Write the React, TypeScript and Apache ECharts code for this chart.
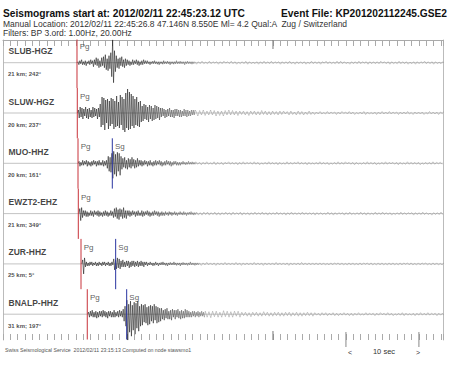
import React, { useEffect, useRef } from "react";
import * as echarts from "echarts";

const FF = '"Liberation Sans", Arial, sans-serif';

// stations (top to bottom)
const stations = ["SLUB-HGZ", "SLUW-HGZ", "MUO-HHZ", "EWZT2-EHZ", "ZUR-HHZ", "BNALP-HHZ"];
const distances = ["21 km; 242°", "20 km; 237°", "20 km; 161°", "21 km; 349°", "25 km; 5°", "31 km; 197°"];

// times in seconds after 22:45:00 UTC
const traceStart = [33.15, 33.2, 33.3, 33.4, 33.8, 34.6];
const pgTimes = [33.14, 33.18, 33.28, 33.32, 33.69, 34.55];
const sgTimes: (number | null)[] = [null, null, 37.98, null, 38.44, 39.95];
const minuteTick = 60;
const scaleBar = [70, 80];

const onsetStep = 0.125; // s between samples in the onset part
const codaStep = 0.25; // s between samples in the coda part

// amplitudes (up = positive)
const slubOnset = [0,
  1, -2, 2, -1, 3, -2, 1, -2, 2, -3, 1, -1, 2, -2, 3, -1,
  2, -4, 3, -2, 5, -3, 4, -5, 2, -4, 5, -3,
  6, -5, 8, -7, 4, -8, 7, -6,
  10, -14, 23, -20, 12, -9,
  7, -5, 4, -6, 5, -3, 6, -4, 3, -5, 4, -3,
  3, -2, 2, -3, 1, -2, 3, -2, 2, -1, 3, -2, 2, -3, 1, -2, 2, -2, 3, -1, 2,
  -1, 2, -1, 1, -2, 1, -1, 1.5, -1, 2, -1, 1, -1.5, 1, -2, 1, -1, 1, -1.5, 2, -1, 1, -1, 1.5, -1, 1, -2, 1, -1, 1, -1.5, 1, -1, 2, -1, 1, -1, 1.5, -1, 1, -1, 1, -2, 1, -1, 1.5, -1, 1, -1, 1, -1.5, 1, -1];
const slubCoda = [
  1, -1.5, 1, -1, 1.5, -1, 0.5, -1, 1.5, -1, 1, -0.5, 1, -1.5, 1, -1, 1.5, -0.5, 1, -1,
  1.5, -1, 1, -1.5, 0.5, -1, 1, -1, 1.5, -1.5, 1, -1, 0.5, -1, 1, -1.5, 1, -1, 1.5, -1,
  1, -1, 1.5, -1, 1, -0.5, 1, -1.5, 1, -1, 1, -1, 1.5, -1, 0.5, -1.5, 1, -1, 1, -1,
  1, -1.5, 0.5, -1, 1.5, -1, 1, -1, 1, -1.5, 1, -0.5, 1.5, -1, 1, -1, 0.5, -1, 1.5, -1,
  1.5, -1, 1, -1, 0.5, -1.5, 1, -1, 1, -1, 1.5, -1, 1, -0.5, 1, -1.5, 1, -1, 1, -1,
  1, -1, 1.5, -0.5, 1, -1, 1, -1.5, 1, -1, 0.5, -1, 1.5, -1, 1, -1, 1, -1.5, 0.5, -1,
  1, -1.5, 1, -1, 1, -0.5, 1.5, -1, 1, -1, 1, -1.5, 1, -1, 0.5, -1, 1, -1, 1.5, -1];

const sluwOnset = [0,
  3, -5, 6, -4, 5, -6, 4, -3, 6, -5, 4, -6, 5, -4, 3, -5, 6, -4, 5, -3, 4, -6, 5, -4,
  9, -14, 16, -12, 15, -17, 13, -10, 14, -16, 12,
  -13, 15, -11, 14, -16, 12, -14, 17, -13, 11, -15, 18, -12, 16, -17, 14, -19, 20, -15, 24, -17, 21, -16, 19, -13, 17, -15, 14, -12, 16, -13, 11, -14, 12,
  -9, 7, -8, 9, -6, 8, -7, 6, -9, 8, -6, 7, -8, 5, -7, 8, -6, 7, -5, 6, -7, 5,
  -4, 5, -3, 4, -5, 3, -4, 4, -3, 5, -4, 3, -4, 3, -5, 4, -3, 4, -3, 3, -4, 3, -4, 2, -3, 4, -3, 3, -4, 3,
  -3, 2, -3, 3, -2, 3, -2, 3];
const sluwCoda = [
  2, -3, 2.5, -2, 3, -2.5, 2, -2, 3, -2, 2.5, -3, 2, -2.5, 2, -3, 2.5, -2, 3, -2, 2.5, -2, 2, -2.5,
  2, -1.5, 2, -2, 1.5, -2.5, 2, -1.5, 2, -2, 1.5, -2, 2.5, -1.5, 2, -2, 1.5, -2, 2, -1.5,
  1.5, -2, 2, -1.5, 2, -1, 1.5, -2, 2, -1.5, 1, -2, 2, -1.5, 1.5, -2, 1, -1.5, 2, -1.5,
  1, -1.5, 1, -1, 1.5, -1, 0.5, -1, 1.5, -1, 1, -0.5, 1, -1.5, 1, -1, 1.5, -0.5, 1, -1,
  1.5, -1, 1, -1.5, 0.5, -1, 1, -1, 1.5, -1.5, 1, -1, 0.5, -1, 1, -1.5, 1, -1, 1.5, -1,
  1, -1, 1.5, -1, 1, -0.5, 1, -1.5, 1, -1, 1, -1, 1.5, -1, 0.5, -1.5, 1, -1, 1, -1,
  1, -1.5, 0.5, -1, 1.5, -1, 1, -1, 1, -1.5, 1, -0.5, 1.5, -1, 1, -1];

const muoOnset = [0,
  2, -3, 1, -2, 3, -2, 2, -1, 3, -3, 2, -2, 1, -3, 2, -2, 3, -1, 2, -3, 2, -2, 3, -2, 1, -2, 3, -3, 2, -2, 3,
  -5, 7, -8, 6, -9, 10,
  -15, 12, -11, 9, -13, 11, -8, 10, -12, 7,
  -6, 5, -4, 6, -5, 3, -6, 5, -4, 4, -5, 6, -3, 4, -5, 3, -4, 5, -3,
  3, -2, 3, -3, 2, -2, 3, -1, 2, -3, 2, -2, 3, -2, 1, -3, 2, -2, 3, -2, 2, -1, 3, -2, 2, -3, 1, -2, 2, -2, 3, -1, 2, -2, 2, -3, 1, -2, 2, -1, 2, -2, 1, -2,
  1, -2, 1, -1, 2, -1, 1, -1.5, 1, -1, 2, -1, 1, -1, 1.5, -1, 1, -1];
const muoCoda = [
  1.5, -1, 1, -1.5, 1, -1, 1.5, -1, 0.5, -1, 1.5, -1.5, 1, -1, 1, -1.5, 1, -0.5, 1.5, -1,
  1, -1, 1, -1.5, 1, -1, 1.5, -1, 1, -0.5, 1, -1, 1.5, -1, 1, -1.5, 0.5, -1, 1, -1,
  1.5, -1, 1, -1, 1, -1.5, 1, -1, 0.5, -1, 1.5, -1, 1, -1, 1, -0.5, 1.5, -1, 1, -1,
  1, -1.5, 1, -1, 0.5, -1, 1, -1, 1.5, -1, 1, -1, 1, -1.5, 0.5, -1, 1, -1, 1.5, -1,
  1, -1, 1.5, -0.5, 1, -1, 1, -1.5, 1, -1, 0.5, -1, 1, -1, 1.5, -1, 1, -1, 1, -1.5,
  0.5, -1, 1, -1, 1.5, -1, 1, -0.5, 1, -1, 1, -1.5, 1, -1, 0.5, -1, 1.5, -1, 1, -1,
  1, -1, 1, -1.5, 0.5, -1, 1, -1, 1, -1, 1.5, -1, 1, -0.5, 1, -1];

const ewztOnset = [0,
  5, -7, 6, -4,
  3, -2, 3, -3, 2, -3, 1, -2, 3, -2, 2, -3, 3, -1, 2, -2, 3, -3, 2, -2, 1, -3, 2, -2, 3, -2, 2, -3, 1, -2, 3, -2, 2,
  -4, 5, -3, 6, -5, 4, -6, 5, -3, 4, -5, 6, -4, 3, -5,
  3, -2, 3, -3, 2, -2, 3, -1, 2, -3, 2, -2, 3, -2, 1, -2, 3, -3, 2, -2, 2, -1, 3, -2, 2, -3, 1, -2, 2, -2, 3, -1, 2, -2, 2, -3, 1, -2, 2, -2,
  1, -2, 2, -1, 1, -2, 2, -1, 1.5, -2, 1, -1, 2, -1.5, 1, -2, 1, -1, 2, -1, 1, -1.5, 2, -1, 1, -2, 1, -1, 1.5, -1, 2, -1, 1, -1.5, 1, -1];
const ewztCoda = [
  1.5, -1.5, 1, -1.5, 1.5, -1, 1.5, -1.5, 1, -1, 1.5, -1.5, 1, -1.5, 1, -1, 1.5, -1, 1, -1.5,
  1.5, -1, 1, -1, 1.5, -1.5, 1, -1, 1, -1.5, 1, -1, 1.5, -1, 1, -1, 1.5, -1, 1, -1.5,
  1, -1, 1, -1, 1.5, -1, 1, -1, 1, -1.5, 1, -1, 1.5, -1, 1, -1, 1, -1, 1.5, -1,
  1, -1, 1, -1, 1, -1.5, 1, -1, 1, -1, 0.5, -1, 1.5, -1, 1, -1.5, 1, -1, 1, -0.5,
  1, -1.5, 1, -1, 1.5, -1, 0.5, -1, 1, -1, 1.5, -1, 1, -1.5, 1, -1, 0.5, -1, 1.5, -1,
  1, -1, 1.5, -1, 1, -1, 1, -1.5, 0.5, -1, 1, -1, 1.5, -1, 1, -1, 1, -0.5, 1, -1.5,
  1, -1, 1, -1, 1.5, -1, 1, -1, 0.5, -1.5, 1, -1, 1, -1, 1.5, -1];

const zurOnset = [0,
  4, -10, 6, -3,
  2, -2, 1, -2, 2, -1, 2, -2, 1, -1, 2, -2, 1, -2, 2, -1, 1, -2, 2, -1, 2, -2, 1, -1, 2, -2, 1, -2, 2, -1,
  5, -6, 4, -5, 6, -4, 5, -5, 3,
  -3, 4, -3, 2, -3, 3, -2, 3, -4, 2, -3, 3, -2, 3, -3, 2, -2, 3, -3, 2, -2, 3, -2, 2, -3,
  2, -1, 2, -2, 1, -1, 2, -1, 1, -2, 1, -1.5, 2, -1, 1, -2, 1, -1, 1.5, -1, 2, -1, 1, -1.5, 1, -2, 1, -1, 1.5, -1, 1, -1, 2, -1, 1, -1.5, 1, -1, 1, -2, 1, -1, 1.5, -1, 1, -1, 1, -1.5, 1, -1, 2, -1, 1, -1, 1, -1.5, 1, -1, 1, -1];
const zurCoda = [
  1, -1.5, 1, -1, 1.5, -1, 1, -1, 1, -1.5, 1, -1, 1, -1, 1.5, -1, 1, -1, 1, -1,
  1.5, -1, 1, -1.5, 1, -1, 1, -1, 1, -1, 1.5, -1, 1, -1, 1, -1.5, 1, -1, 1, -1,
  1, -1, 1.5, -1, 1, -1, 1, -1, 1, -1.5, 1, -1, 1, -1, 1, -1, 1.5, -1, 1, -1,
  1, -1, 1, -1, 1, -1, 1, -1, 1, -1, 0.5, -1, 1, -1, 1, -0.5, 1, -1, 1, -1,
  0.5, -1, 1, -1, 1, -1, 0.5, -1, 1, -1, 1, -0.5, 1, -1, 1, -1, 0.5, -1, 1, -1,
  1, -1, 0.5, -1, 1, -1, 1, -1, 0.5, -1, 1, -1, 1, -0.5, 1, -1, 1, -1, 0.5, -1,
  1, -1, 1, -0.5, 1, -1, 0.5, -1, 1, -1, 1, -1, 0.5, -1, 1, -1];

const bnalpOnset = [0,
  2, -3, 3, -2, 4, -3, 2, -3, 3, -4, 2, -3, 3, -2, 3, -3, 4, -2, 3, -3, 2, -4, 3, -2, 3, -3, 2, -3, 4, -3, 2, -2, 3, -3, 4, -2, 3, -3,
  5, -7, 8,
  -12, 14, -26, 10, -18, 13, -22, 9, -16, 12, -20, 11, -14, 13, -17, 8, -12, 10,
  -11, 9, -8, 10, -9, 7, -11, 8, -10, 9, -7, 8, -9, 10, -6, 8, -9, 7, -8, 6, -7,
  6, -5, 4, -6, 5, -4, 6, -5, 3, -5, 4, -6, 5, -3, 4, -5, 4, -3, 5, -4, 3, -5, 4, -4, 3, -4, 5, -3, 4, -3,
  3, -3, 2, -3, 3, -2, 3, -3, 2, -2, 3, -3, 2, -2, 3, -2, 2, -3];
const bnalpCoda = [
  3, -3, 2.5, -3.5, 3, -2.5, 3, -3, 2, -3, 3.5, -2.5, 3, -3, 2.5, -3, 3, -2, 3, -3,
  2, -1.5, 2, -2, 1.5, -2.5, 2, -1.5, 2, -2, 1.5, -2, 2.5, -1.5, 2, -2, 1.5, -2, 2, -1.5,
  2, -2, 1.5, -2, 2, -1.5, 2, -2, 1.5, -1.5, 2, -2, 1.5, -2, 1.5, -1.5, 2, -1.5, 1.5, -2,
  1.5, -1, 1, -1.5, 1.5, -1, 1.5, -1.5, 1, -1, 1.5, -1.5, 1, -1.5, 1, -1, 1.5, -1, 1, -1.5,
  1, -1.5, 1, -1, 1.5, -1, 0.5, -1, 1.5, -1, 1, -0.5, 1, -1.5, 1, -1, 1.5, -0.5, 1, -1,
  1.5, -1, 1, -1.5, 0.5, -1, 1, -1, 1.5, -1.5, 1, -1, 0.5, -1, 1, -1.5, 1, -1, 1.5, -1,
  1, -1, 1.5, -1, 1, -0.5, 1, -1.5, 1, -1, 1, -1, 1.5, -1, 0.5, -1.5];

const onsets = [slubOnset, sluwOnset, muoOnset, ewztOnset, zurOnset, bnalpOnset];
const codas = [slubCoda, sluwCoda, muoCoda, ewztCoda, zurCoda, bnalpCoda];

const X_MIN = 23;
const X_MAX = 83.3;
const base = (i: number) => 22.7 + 50.3 * i;

const seg = (pts: number[][], color: any, width: number, clip = true, z = 4) => ({
  type: "line", data: pts, symbol: "none", silent: true, z, clip,
  lineStyle: { color, width }, itemStyle: { color: typeof color === "string" ? color : "#111" },
});

const onsetColor = {
  type: "linear", x: 0, y: 0, x2: 1, y2: 0,
  colorStops: [
    { offset: 0, color: "#0d0d0d" },
    { offset: 0.55, color: "#1a1a1a" },
    { offset: 1, color: "#6a6a6a" },
  ],
};

function buildOption() {
  const series: any[] = [];

  // baselines
  stations.forEach((_, i) => series.push(seg([[X_MIN, base(i)], [X_MAX, base(i)]], "#b4b4b4", 0.8, true, 1)));

  // traces
  onsets.forEach((on, i) => {
    const b = base(i);
    const st = traceStart[i];
    const onData = on.map((v, k) => [st + k * onsetStep, b - v]);
    const cStart = st + on.length * onsetStep;
    const coData = [onData[onData.length - 1], ...codas[i].map((v, k) => [cStart + k * codaStep, b - v])];
    series.push(seg(onData, onsetColor, 0.55, true, 3));
    series.push(seg(coData, "#8a8a8a", 0.45, true, 3));
  });

  // phase picks
  pgTimes.forEach((t, i) => series.push(seg([[t, base(i) - 25], [t, base(i) + 25.3]], "#c8323a", 1)));
  sgTimes.forEach((t, i) => {
    if (t != null) series.push(seg([[t, base(i) - 25], [t, base(i) + 25.3]], "#2a35a0", 1));
  });

  // minute tick (taller)
  series.push(seg([[minuteTick, 0], [minuteTick, 9]], "#777", 1));
  series.push(seg([[minuteTick, 291], [minuteTick, 300]], "#777", 1));
  // scale bar ends
  scaleBar.forEach((t) => series.push(seg([[t, 292], [t, 307]], "#888", 1, false)));

  const labelSeries = (items: { v: number[]; text: string }[], style: any) => ({
    type: "scatter", silent: true, z: 5, symbol: "circle", symbolSize: 1,
    itemStyle: { color: "rgba(0,0,0,0)" },
    data: items.map((it) => ({
      value: it.v,
      label: { show: true, position: "right", distance: 0, formatter: it.text, ...style },
    })),
  });

  series.push(labelSeries(stations.map((s, i) => ({ v: [23.69, base(i) - 11.5], text: s })),
    { fontFamily: FF, fontWeight: "bold", fontSize: 8.5, color: "#111" }));
  series.push(labelSeries(distances.map((s, i) => ({ v: [23.62, base(i) + 11.5], text: s })),
    { fontFamily: FF, fontWeight: "bold", fontSize: 6, color: "#222" }));
  series.push(labelSeries(pgTimes.map((t, i) => ({ v: [t + 0.3, base(i) - 16.5], text: "Pg" })),
    { fontFamily: FF, fontSize: 8, color: "#333" }));
  series.push(labelSeries(
    sgTimes.map((t, i) => (t == null ? null : { v: [t + 0.3, base(i) - 16.5], text: "Sg" })).filter(Boolean) as any,
    { fontFamily: FF, fontSize: 8, color: "#333" }));

  const axisX = (pos: string) => ({
    type: "value", min: X_MIN, max: X_MAX, interval: 1, position: pos,
    axisLine: { show: pos === "top", onZero: false, lineStyle: { color: "#aaa", width: 1 } },
    axisTick: { show: true, inside: true, length: 6, lineStyle: { color: "#aaa", width: 1 } },
    axisLabel: { show: false }, splitLine: { show: false },
  });
  const axisY = (pos: string) => ({
    type: "value", min: 0, max: 300, inverse: true, position: pos,
    axisLine: { show: true, onZero: false, lineStyle: { color: "#bbb", width: 1 } },
    axisTick: { show: false }, axisLabel: { show: false }, splitLine: { show: false },
  });

  const txt = (x: number, y: number, text: string, font: string, fill: string, align = "left", lh?: number) => ({
    type: "text", x, y, silent: true,
    style: { text, font, fill, textAlign: align, textVerticalAlign: "middle", ...(lh ? { lineHeight: lh } : {}) },
  });

  return {
    animation: false,
    backgroundColor: "#fff",
    textStyle: { fontFamily: FF },
    grid: { left: 3, right: 9, top: 40, bottom: 26, containLabel: false },
    xAxis: [axisX("top"), axisX("bottom")],
    yAxis: [axisY("left"), axisY("right")],
    series,
    graphic: [
      txt(3, 13.5, "Seismograms start at: 2012/02/11 22:45:23.12 UTC", `bold 10.2px ${FF}`, "#111"),
      txt(447, 13.5, "Event File: KP201202112245.GSE2", `bold 10.2px ${FF}`, "#111", "right"),
      txt(3, 24.3, "Manual Location: 2012/02/11 22:45:26.8 47.146N 8.550E Ml= 4.2 Qual:A  Zug / Switzerland", `8.5px ${FF}`, "#333", "left", 8),
      txt(3, 32.5, "Filters: BP 3.ord: 1.00Hz, 20.00Hz", `8.5px ${FF}`, "#333", "left", 8),
      txt(5, 350, "Swiss Seismological Service  2012/02/11 23:15:13 Computed on node stawsmo1", `5.2px ${FF}`, "#555"),
      txt(348, 352, "<", `7px ${FF}`, "#333"),
      txt(384, 351, "10 sec", `7.5px ${FF}`, "#333", "center"),
      txt(420, 352, ">", `7px ${FF}`, "#333", "right"),
    ],
  };
}

export default function App() {
  const ref = useRef<HTMLDivElement>(null);
  useEffect(() => {
    const chart = echarts.init(ref.current!, null, { renderer: "svg" });
    chart.setOption(buildOption() as any);
    return () => chart.dispose();
  }, []);
  return (
    <div
      ref={ref}
      style={{ position: "fixed", left: 0, top: 0, width: 452, height: 366, background: "#fff" }}
    />
  );
}
